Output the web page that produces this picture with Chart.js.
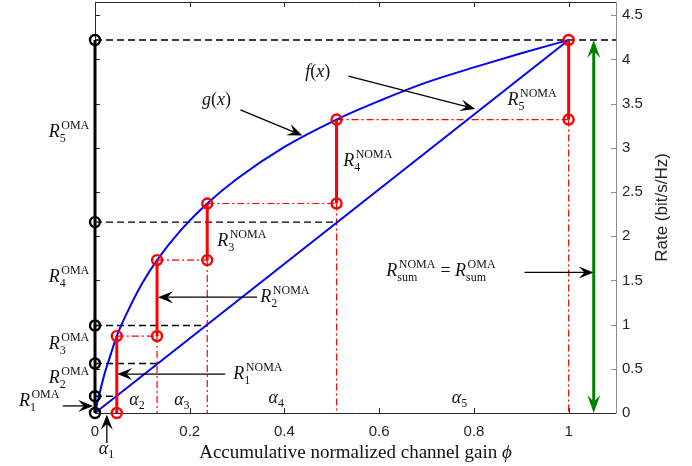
<!DOCTYPE html>
<html><head><meta charset="utf-8">
<script src="https://cdn.jsdelivr.net/npm/chart.js@4"></script>
<style>html,body{margin:0;padding:0;background:#fff}#wrap{width:692px;height:466px;position:relative}</style>
</head><body><div id="wrap"><canvas id="c" width="692" height="466"></canvas></div>
<script>
// ---------- data ----------
const xTickValues = [0, 0.2, 0.4, 0.6, 0.8, 1];
const xTickLabels = ['0', '0.2', '0.4', '0.6', '0.8', '1'];
const yTickValues = [0, 0.5, 1, 1.5, 2, 2.5, 3, 3.5, 4, 4.5];
const yTickLabels = ['0', '0.5', '1', '1.5', '2', '2.5', '3', '3.5', '4', '4.5'];
const omaRates   = [0, 0.19, 0.56, 0.99, 2.16, 4.22];   // cumulative OMA rates at phi = 0
const omaDashEnd = [0.046, 0.131, 0.237, 0.51, 1.1];    // where each dashed level line stops
const alphaCum   = [0.046, 0.131, 0.237, 0.51, 1.0];    // accumulative normalized channel gains
const nomaUpper  = [0.87, 1.73, 2.37, 3.32, 4.22];      // g(alpha_i)
const nomaLower  = [0, 0.87, 1.73, 2.37, 3.32];         // g(alpha_{i-1})
const gCurveX = [0, 0.005, 0.01, 0.02, 0.03, 0.046, 0.07, 0.1, 0.131, 0.18, 0.237, 0.3, 0.4, 0.51, 0.6, 0.7, 0.8, 0.9, 1.0];
const gCurveY = [0, 0.12, 0.23, 0.44, 0.61, 0.87, 1.16, 1.47, 1.73, 2.06, 2.37, 2.65, 3.01, 3.32, 3.53, 3.74, 3.91, 4.07, 4.22];
const fLineX = [0, 1];
const fLineY = [0, 4.22];
const sumArrowX = 1.053;

// ---------- datasets ----------
const RED = '#ff0000', BLUE = '#0000ff', GREEN = '#008000', BLK = '#000000';
const datasets = [];
const seg = (pts, o) => Object.assign({data: pts, pointRadius: 0, borderCapStyle: 'butt', fill: false, clip: false}, o);

for (let i = 0; i < omaDashEnd.length; i++) {
  datasets.push(seg([{x: 0, y: omaRates[i + 1]}, {x: omaDashEnd[i], y: omaRates[i + 1]}],
    {borderColor: BLK, borderWidth: 1.4, borderDash: [7, 4], order: 10}));
}
for (let i = 0; i < alphaCum.length - 1; i++) {
  datasets.push(seg([{x: alphaCum[i], y: nomaUpper[i]}, {x: alphaCum[i + 1], y: nomaUpper[i]}],
    {borderColor: RED, borderWidth: 1.2, borderDash: [7, 3, 2, 3], order: 9}));
}
for (let i = 1; i < alphaCum.length; i++) {
  datasets.push(seg([{x: alphaCum[i], y: nomaLower[i]}, {x: alphaCum[i], y: 0}],
    {borderColor: RED, borderWidth: 1.2, borderDash: [7, 3, 2, 3], order: 9}));
}
datasets.push(seg(gCurveX.map((x, i) => ({x, y: gCurveY[i]})),
  {borderColor: BLUE, borderWidth: 2, cubicInterpolationMode: 'monotone', order: 5}));
datasets.push(seg(fLineX.map((x, i) => ({x, y: fLineY[i]})),
  {borderColor: BLUE, borderWidth: 2, order: 5}));
for (let i = 0; i < alphaCum.length; i++) {
  datasets.push(seg([{x: alphaCum[i], y: nomaLower[i]}, {x: alphaCum[i], y: nomaUpper[i]}],
    {borderColor: RED, borderWidth: 3, pointRadius: 5, pointBorderWidth: 2.4, pointBorderColor: RED,
     pointBackgroundColor: 'rgba(0,0,0,0)', order: 2}));
}
datasets.push(seg(omaRates.map(y => ({x: 0, y})),
  {borderColor: BLK, borderWidth: 3, pointRadius: 5, pointBorderWidth: 2.4, pointBorderColor: BLK,
   pointBackgroundColor: 'rgba(0,0,0,0)', order: 1}));

// ---------- text helpers ----------
const SERIF = '"Liberation Serif","Times New Roman",serif';
const SANS = '"Liberation Sans",Arial,Helvetica,sans-serif';
const fnt = (sz, it) => (it ? 'italic ' : '') + sz + 'px ' + SERIF;
function segW(ctx, s) {
  if (s.t !== undefined) { ctx.font = fnt(s.sz || 18, s.it); return ctx.measureText(s.t).width; }
  ctx.font = fnt(12, false);
  let w = 0;
  if (s.sup) w = Math.max(w, ctx.measureText(s.sup).width + 1.5);
  if (s.sub) w = Math.max(w, ctx.measureText(s.sub).width);
  return w + 0.5;
}
function drawSeq(ctx, segs, x, y, align) {
  const ws = segs.map(s => segW(ctx, s));
  const total = ws.reduce((a, b) => a + b, 0);
  let cx = align === 'right' ? x - total : align === 'center' ? x - total / 2 : x;
  ctx.fillStyle = '#111';
  ctx.textAlign = 'left';
  ctx.textBaseline = 'alphabetic';
  segs.forEach((s, i) => {
    if (s.t !== undefined) {
      ctx.font = fnt(s.sz || 18, s.it);
      ctx.fillText(s.t, cx, y);
    } else {
      ctx.font = fnt(12, false);
      if (s.sup) ctx.fillText(s.sup, cx + 1.5, y - 8);
      if (s.sub) ctx.fillText(s.sub, cx, y + (s.sup ? 5 : 4));
    }
    cx += ws[i];
  });
}
const R = (sup, sub) => [{t: 'R', it: true}, {sup, sub}];
const A = (sub) => [{t: 'α', it: true}, {sub}];

const labels = [
  {segs: R('OMA', '5'), x: -0.011, y: 3.12, al: 'right'},
  {segs: R('OMA', '4'), x: -0.011, y: 1.48, al: 'right'},
  {segs: R('OMA', '3'), x: -0.011, y: 0.72, al: 'right'},
  {segs: R('OMA', '2'), x: -0.011, y: 0.34, al: 'right'},
  {segs: R('OMA', '1'), x: -0.074, y: 0.08, al: 'right'},
  {segs: R('NOMA', '1'), x: 0.292, y: 0.385, al: 'left'},
  {segs: R('NOMA', '2'), x: 0.349, y: 1.255, al: 'left'},
  {segs: R('NOMA', '3'), x: 0.258, y: 1.89, al: 'left'},
  {segs: R('NOMA', '4'), x: 0.524, y: 2.80, al: 'left'},
  {segs: R('NOMA', '5'), x: 0.871, y: 3.49, al: 'left'},
  {segs: [].concat(R('NOMA', 'sum'), [{t: ' = '}], R('OMA', 'sum')), x: 0.615, y: 1.55, al: 'left'},
  {segs: A('1'), x: 0.025, y: -0.46, al: 'center'},
  {segs: A('2'), x: 0.089, y: 0.09, al: 'center'},
  {segs: A('3'), x: 0.184, y: 0.09, al: 'center'},
  {segs: A('4'), x: 0.383, y: 0.11, al: 'center'},
  {segs: A('5'), x: 0.77, y: 0.11, al: 'center'},
  {segs: [{t: 'g', it: true}, {t: '('}, {t: 'x', it: true}, {t: ')'}], x: 0.226, y: 3.48, al: 'left'},
  {segs: [{t: 'f', it: true}, {t: '('}, {t: 'x', it: true}, {t: ')'}], x: 0.444, y: 3.80, al: 'left'},
];
const arrows = [
  {x1: -0.068, y1: 0.08, x2: -0.004, y2: 0.08},
  {x1: 0.025, y1: -0.34, x2: 0.025, y2: -0.02},
  {x1: 0.307, y1: 3.43, x2: 0.438, y2: 3.14},
  {x1: 0.535, y1: 3.81, x2: 0.803, y2: 3.44},
  {x1: 0.342, y1: 1.31, x2: 0.133, y2: 1.31},
  {x1: 0.275, y1: 0.44, x2: 0.047, y2: 0.44},
  {x1: 0.907, y1: 1.59, x2: sumArrowX, y2: 1.59},
];

function head(ctx, x, y, ang, L, W) {
  ctx.save(); ctx.translate(x, y); ctx.rotate(ang);
  ctx.beginPath(); ctx.moveTo(0, 0); ctx.lineTo(-L, -W); ctx.lineTo(-L * 0.62, 0); ctx.lineTo(-L, W); ctx.closePath();
  ctx.fill(); ctx.restore();
}
function arrow(ctx, x1, y1, x2, y2, color, lw, L, W, both) {
  const ang = Math.atan2(y2 - y1, x2 - x1);
  const c = Math.cos(ang), s = Math.sin(ang);
  ctx.strokeStyle = color; ctx.fillStyle = color; ctx.lineWidth = lw; ctx.setLineDash([]);
  ctx.beginPath();
  const sx = both ? x1 + c * L * 0.6 : x1, sy = both ? y1 + s * L * 0.6 : y1;
  ctx.moveTo(sx, sy); ctx.lineTo(x2 - c * L * 0.6, y2 - s * L * 0.6); ctx.stroke();
  head(ctx, x2, y2, ang, L, W);
  if (both) head(ctx, x1, y1, ang + Math.PI, L, W);
}

const framePlugin = {
  id: 'frame',
  beforeDatasetsDraw(chart) {
    const {ctx, chartArea: a, scales: {x, y}} = chart;
    ctx.save();
    ctx.lineWidth = 1; ctx.setLineDash([]);
    ctx.strokeStyle = '#262626';
    ctx.beginPath();
    xTickValues.forEach(v => { const p = Math.round(x.getPixelForValue(v)) + 0.5;
      ctx.moveTo(p, a.bottom); ctx.lineTo(p, a.bottom - 5); ctx.moveTo(p, a.top); ctx.lineTo(p, a.top + 5); });
    yTickValues.forEach(v => { const p = Math.round(y.getPixelForValue(v)) + 0.5;
      ctx.moveTo(a.left, p); ctx.lineTo(a.left + 5, p); });
    ctx.stroke();
    ctx.strokeStyle = '#8c8c8c';
    ctx.beginPath();
    yTickValues.forEach(v => { const p = Math.round(y.getPixelForValue(v)) + 0.5;
      ctx.moveTo(a.right, p); ctx.lineTo(a.right - 5, p); });
    ctx.stroke();
    ctx.strokeStyle = '#262626';
    ctx.beginPath();
    ctx.moveTo(a.left + 0.5, a.top + 0.5); ctx.lineTo(a.right, a.top + 0.5);
    ctx.moveTo(a.left + 0.5, a.top); ctx.lineTo(a.left + 0.5, a.bottom + 0.5);
    ctx.moveTo(a.left, a.bottom + 0.5); ctx.lineTo(a.right, a.bottom + 0.5);
    ctx.stroke();
    ctx.strokeStyle = '#8c8c8c';
    ctx.beginPath(); ctx.moveTo(a.right + 0.5, a.top); ctx.lineTo(a.right + 0.5, a.bottom + 1); ctx.stroke();
    ctx.restore();
  },
  afterDatasetsDraw(chart) {
    const {ctx, chartArea: a, scales: {x, y}} = chart;
    ctx.save();
    labels.forEach(l => drawSeq(ctx, l.segs, x.getPixelForValue(l.x), y.getPixelForValue(l.y), l.al));
    arrows.forEach(r => arrow(ctx, x.getPixelForValue(r.x1), y.getPixelForValue(r.y1),
      x.getPixelForValue(r.x2), y.getPixelForValue(r.y2), '#000', 1.3, 15, 6, false));
    arrow(ctx, x.getPixelForValue(sumArrowX), y.getPixelForValue(0), x.getPixelForValue(sumArrowX),
      y.getPixelForValue(omaRates[omaRates.length - 1]), GREEN, 3, 18, 6.5, true);
    ctx.fillStyle = '#262626';
    ctx.font = '17px ' + SANS;
    ctx.textAlign = 'center'; ctx.textBaseline = 'middle';
    ctx.save(); ctx.translate(662, (a.top + a.bottom) / 2); ctx.rotate(-Math.PI / 2);
    ctx.fillText('Rate (bit/s/Hz)', 0, 0); ctx.restore();
    const t1 = 'Accumulative normalized channel gain ';
    ctx.font = fnt(19, false); const w1 = ctx.measureText(t1).width;
    ctx.font = fnt(19, true); const w2 = ctx.measureText('ϕ').width;
    const cx = (a.left + a.right) / 2 - (w1 + w2) / 2;
    ctx.textAlign = 'left'; ctx.textBaseline = 'alphabetic'; ctx.fillStyle = '#111';
    ctx.font = fnt(19, false); ctx.fillText(t1, cx, 458);
    ctx.font = fnt(19, true); ctx.fillText('ϕ', cx + w1, 458);
    ctx.restore();
  }
};

new Chart(document.getElementById('c'), {
  type: 'line',
  data: {datasets},
  options: {
    responsive: false, animation: false, events: [],
    layout: {autoPadding: false, padding: {left: 95, top: 2, right: 0, bottom: 0}},
    plugins: {legend: {display: false}, tooltip: {enabled: false}},
    scales: {
      x: {
        type: 'linear', position: 'bottom', min: 0, max: 1.1,
        grid: {display: false, drawTicks: false}, border: {display: false},
        ticks: {font: {family: SANS, size: 15}, color: '#262626', padding: 10, maxRotation: 0, autoSkip: false,
                callback: v => xTickLabels[xTickValues.indexOf(v)]},
        afterBuildTicks: s => { s.ticks = xTickValues.map(v => ({value: v})); },
        afterFit: s => { s.height = 53; s.paddingLeft = 0; s.paddingRight = 0; }
      },
      y: {
        type: 'linear', position: 'right', min: 0, max: 4.65,
        grid: {display: false, drawTicks: false}, border: {display: false},
        ticks: {font: {family: SANS, size: 15}, color: '#262626', padding: 6, autoSkip: false,
                callback: v => yTickLabels[yTickValues.indexOf(v)]},
        afterBuildTicks: s => { s.ticks = yTickValues.map(v => ({value: v})); },
        afterFit: s => { s.width = 76; s.paddingTop = 0; s.paddingBottom = 0; }
      }
    }
  },
  plugins: [framePlugin]
});
</script>
</body></html>
